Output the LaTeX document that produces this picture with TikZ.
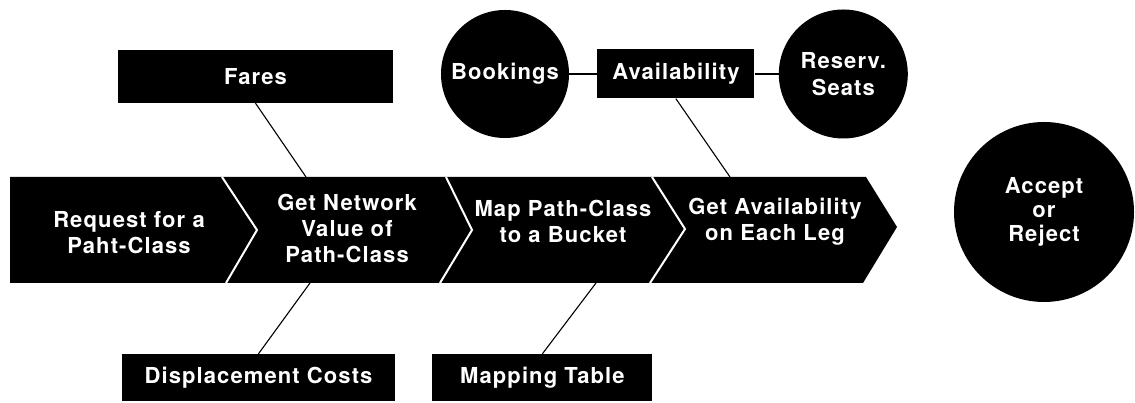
\documentclass[tikz,border=0pt]{standalone}
\usepackage{fontspec}
\newfontfamily\flowfont[LetterSpace=5]{TeX Gyre Heros}
\usetikzlibrary{positioning}

\begin{document}
\begin{tikzpicture}[x=1pt, y=1pt,
        lbl/.style={text=white, font=\flowfont\bfseries\fontsize{22}{26}\selectfont, align=center},
        blackbox/.style={lbl, fill=black, inner sep=0pt},
        blackdisc/.style={lbl, circle, fill=black, inner sep=0pt},
        link/.style={black, line width=1.1pt}]
        \useasboundingbox (0,0) rectangle (1135,403);

        % process band
        \fill[black] (10,226) -- (866,226) -- (897,176) -- (863,120) -- (10,120) -- cycle;
        \draw[white, line width=2pt] (222,226) -- (257,173) -- (226,120);
        \draw[white, line width=2pt] (446,226) -- (472,173) -- (440,120);
        \draw[white, line width=2pt] (652,226) -- (685,174) -- (650,120);

        \node[lbl] (req) at (129,170) {Request for a\\Paht-Class};
        \node[lbl] (netval) at (347,175) {Get Network\\Value of\\Path-Class};
        \node[lbl] (bucket) at (563,182) {Map Path-Class\\to a Bucket};
        \node[lbl] (legs) at (775,181) {Get Availability\\on Each Leg};

        \coordinate (faresin) at (306,226);
        \coordinate (dispin) at (310,120);
        \coordinate (mapin) at (596,120);
        \coordinate (availin) at (730,226);

        % data around the band
        \node[blackbox, minimum width=275pt, minimum height=53pt] (fares) at (255.5,326.5) {Fares};
        \node[blackdisc, minimum size=128pt] (book) at (505,329) {Bookings};
        \node[blackbox, minimum width=157pt, minimum height=49pt, right=28pt of book] (availbox) {Availability};
        \node[blackdisc, minimum size=129pt, right=24pt of availbox] (seats) {Reserv.\\[1pt]Seats};
        \node[blackdisc, minimum size=180pt, font=\flowfont\bfseries\fontsize{22}{24}\selectfont] (decide) at (1044,191) {Accept\\or\\Reject};
        \node[blackbox, minimum width=273pt, minimum height=47pt] (disp) at (258.5,25.5) {Displacement Costs};
        \node[blackbox, minimum width=220pt, minimum height=47pt, right=37pt of disp] (maptab) {Mapping Table};

        \draw[link] (fares.south) -- (faresin);
        \draw[link] (disp.north) -- (dispin);
        \draw[link] (maptab.north) -- (mapin);
        \draw[link] (availbox.south) -- (availin);
        \draw[link] (book) -- (availbox);
        \draw[link] (availbox) -- (seats);
    \end{tikzpicture}
\end{document}
